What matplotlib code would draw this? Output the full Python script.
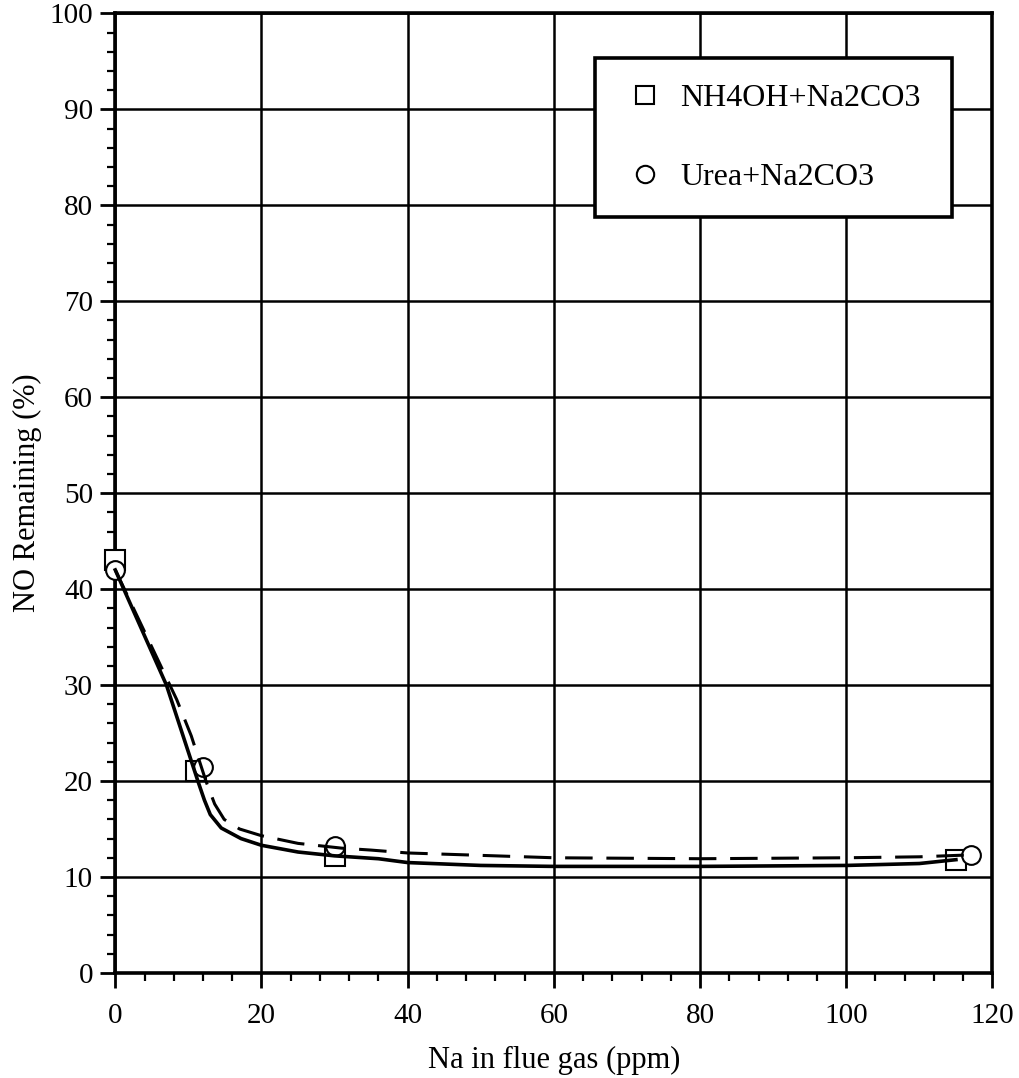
import matplotlib
matplotlib.use("Agg")
import matplotlib.pyplot as plt
from matplotlib.lines import Line2D
from matplotlib.ticker import MultipleLocator

plt.rcParams['font.family'] = ['Liberation Serif', 'DejaVu Serif']

# measured NO remaining vs Na added
nh4oh_na = [0, 11, 30, 115]
nh4oh_no = [43, 21, 12.2, 11.8]
urea_na = [0, 12, 30, 117]
urea_no = [42, 21.5, 13.2, 12.3]

# trend lines drawn through each series
nh4oh_fit_na = [0, 7, 11.3, 12.2, 13.0, 14.5, 17.2, 20, 25, 30, 36, 40, 50, 60, 80, 100, 110, 115]
nh4oh_fit_no = [42, 30, 20, 18, 16.5, 15.1, 14.0, 13.3, 12.6, 12.2, 11.9, 11.5, 11.2, 11.1, 11.1, 11.2, 11.4, 11.8]
urea_fit_na = [0, 8.4, 10.4, 12.4, 13.6, 14.9, 17, 20, 25, 31, 35, 40, 60, 80, 100, 110, 117]
urea_fit_no = [42, 28.5, 24.7, 20, 17.6, 16, 15.0, 14.3, 13.5, 13.0, 12.8, 12.5, 12.0, 11.9, 12.0, 12.1, 12.3]

labels = ['NH4OH+Na2CO3', 'Urea+Na2CO3']

fig = plt.figure(figsize=(10.2, 10.78), dpi=100)
ax = fig.add_axes([0.113, 0.0975, 0.86, 0.89])

ax.plot(nh4oh_fit_na, nh4oh_fit_no, color='black', lw=2.6, zorder=5, clip_on=False)
ax.plot(urea_fit_na, urea_fit_no, color='black', lw=2.2, linestyle=(0, (9, 4.5)), zorder=5, clip_on=False)
ax.plot(nh4oh_na, nh4oh_no, ls='none', marker='s', ms=14, mfc='white', mec='black', mew=1.5,
        zorder=3, clip_on=False)
ax.plot(urea_na, urea_no, ls='none', marker='o', ms=13.5, mfc='white', mec='black', mew=1.5,
        zorder=4, clip_on=False)

ax.set_xlim(0, 120)
ax.set_ylim(0, 100)
ax.xaxis.set_major_locator(MultipleLocator(20))
ax.xaxis.set_minor_locator(MultipleLocator(4))
ax.yaxis.set_major_locator(MultipleLocator(10))
ax.yaxis.set_minor_locator(MultipleLocator(2))
ax.grid(True, which='major', color='black', lw=1.8)
ax.set_axisbelow(True)
for s in ax.spines.values():
    s.set_linewidth(2.6)
ax.tick_params(which='major', direction='out', length=11, width=2, labelsize=21, pad=5)
ax.tick_params(which='minor', direction='out', length=6, width=1.6)
ax.tick_params(axis='x', which='major', pad=11)

ax.set_xlabel('Na in flue gas (ppm)', fontsize=22, labelpad=12)
ax.set_ylabel('NO Remaining (%)', fontsize=22, labelpad=5)

handles = [
    Line2D([], [], ls='none', marker='s', ms=12.5, mfc='white', mec='black', mew=1.5),
    Line2D([], [], ls='none', marker='o', ms=12.5, mfc='white', mec='black', mew=1.5),
]
leg = ax.legend(handles, labels, loc='upper left',
                bbox_to_anchor=(595 / 1020, 1 - 215 / 1078, 357 / 1020, 157 / 1078),
                bbox_transform=fig.transFigure, mode='expand', fontsize=23, frameon=True,
                fancybox=False, borderpad=0.8, labelspacing=1.55, handletextpad=0.31,
                handlelength=1.56, borderaxespad=0)
leg.get_frame().set_edgecolor('black')
leg.get_frame().set_linewidth(2.6)
leg.get_frame().set_alpha(1)

fig.savefig('out.png', dpi=100)
